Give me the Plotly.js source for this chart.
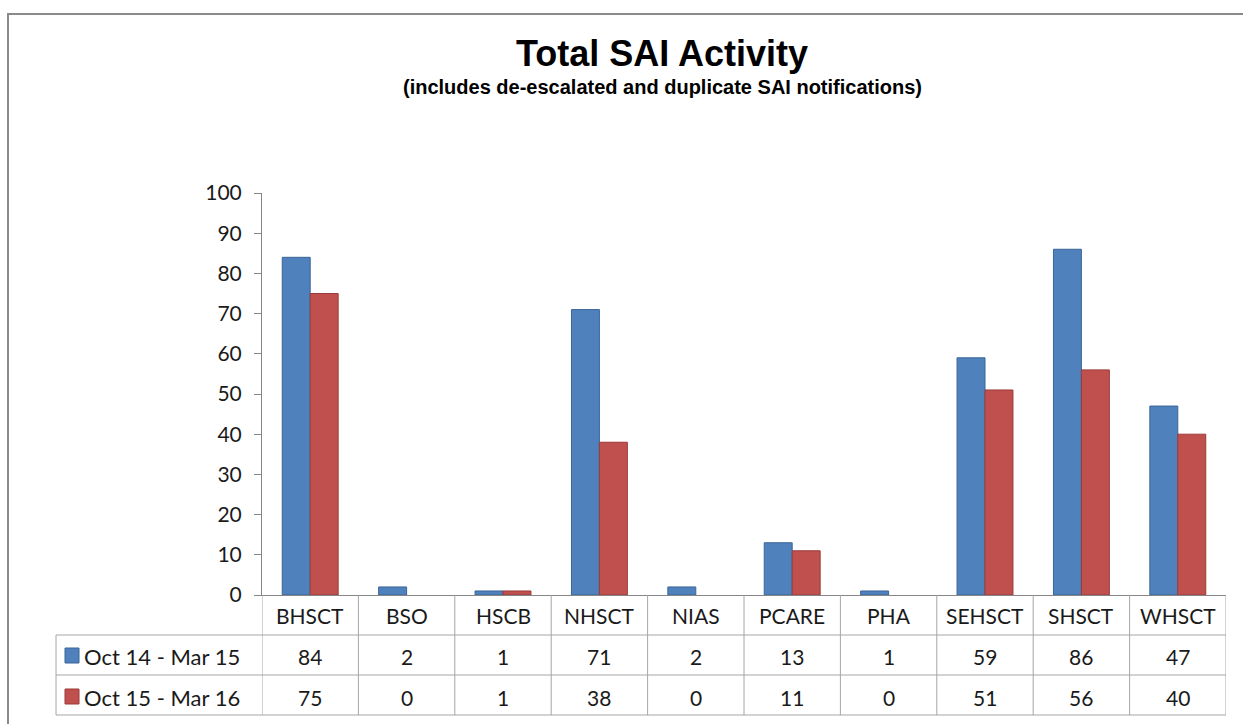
<!DOCTYPE html>
<html>
<head>
<meta charset="utf-8">
<script src="https://cdn.plot.ly/plotly-3.0.1.min.js"></script>
<style>html,body{margin:0;padding:0;background:#fff;}#chart{width:1243px;height:724px;}</style>
</head>
<body>
<div id="chart"></div>
<script>
const categories = ['BHSCT','BSO','HSCB','NHSCT','NIAS','PCARE','PHA','SEHSCT','SHSCT','WHSCT'];
const seriesNames = ['Oct 14 - Mar 15','Oct 15 - Mar 16'];
const octMar15 = [84,2,1,71,2,13,1,59,86,47];
const octMar16 = [75,0,1,38,0,11,0,51,56,40];
const yTicks = [0,10,20,30,40,50,60,70,80,90,100];

const W = 1243, H = 724;
const L = 262, R = 1226, T = 193, B = 595;
const px = x => (x - L) / (R - L);
const py = y => (B - y) / (B - T);

const fills = ['#4F81BD', '#C0504D'];
const borders = ['#3A6597', '#9B3B38'];
const seriesVals = [octMar15, octMar16];
const textFont = {family: 'Lato, "Open Sans", sans-serif', size: 21, color: '#1a1a1a'};
const legendFont = {family: 'Lato, "Open Sans", sans-serif', size: 22, color: '#1a1a1a'};
const gridColor = '#A6A6A6';

const traces = seriesVals.map((vals, i) => ({
  type: 'bar', name: seriesNames[i], x: categories, y: vals,
  marker: {color: fills[i], line: {color: borders[i], width: vals.map(v => v === 0 ? 0 : 1)}},
  hoverinfo: 'x+y'
}));

const shapes = [];
const annotations = [];
// outer frame
shapes.push({type:'rect', xref:'paper', yref:'paper', x0:px(8), x1:px(1270), y0:py(14), y1:py(760), line:{color:'#8a8a8a', width:2}});
// table horizontal lines
[635, 675, 715].forEach(y => shapes.push({type:'line', xref:'paper', yref:'paper', x0:px(56), x1:1, y0:py(y), y1:py(y), line:{color:gridColor, width:1}}));
// table left edge
shapes.push({type:'line', xref:'paper', yref:'paper', x0:px(56), x1:px(56), y0:py(635), y1:py(715), line:{color:gridColor, width:1}});
// category column separators
for (let k = 0; k <= categories.length; k++) {
  shapes.push({type:'line', xref:'x', yref:'paper', x0:k-0.5, x1:k-0.5, y0:py(595), y1:py(715), line:{color:gridColor, width:1}});
}
// legend keys
seriesNames.forEach((n, i) => {
  const yc = 656 + 41 * i;
  shapes.push({type:'rect', xref:'paper', yref:'paper', x0:px(65), x1:px(79), y0:py(yc-8), y1:py(yc+7), fillcolor:fills[i], line:{color:borders[i], width:1}});
  annotations.push({xref:'paper', yref:'paper', x:px(82), y:py(yc), xanchor:'left', yanchor:'middle', text:n, showarrow:false, font:legendFont});
});
// header and values
categories.forEach((c, j) => {
  annotations.push({xref:'x', yref:'paper', x:c, y:py(615), xanchor:'center', yanchor:'middle', text:c, showarrow:false, font:textFont});
  seriesVals.forEach((vals, i) => {
    annotations.push({xref:'x', yref:'paper', x:c, y:py(656 + 41 * i), xanchor:'center', yanchor:'middle', text:String(vals[j]), showarrow:false, font:textFont});
  });
});
// titles
annotations.push({xref:'paper', yref:'paper', x:px(662), y:py(53), xanchor:'center', yanchor:'middle', text:'<b>Total SAI Activity</b>', showarrow:false, font:{family:'Liberation Sans, Arial, sans-serif', size:36, color:'#000'}});
annotations.push({xref:'paper', yref:'paper', x:px(662), y:py(87), xanchor:'center', yanchor:'middle', text:'<b>(includes de-escalated and duplicate SAI notifications)</b>', showarrow:false, font:{family:'Liberation Sans, Arial, sans-serif', size:20, color:'#000'}});

const layout = {
  width: W, height: H,
  margin: {l: L, r: W - R, t: T, b: H - B, pad: 0},
  paper_bgcolor: '#fff', plot_bgcolor: '#fff',
  showlegend: false,
  barmode: 'group', bargap: 0.42, bargroupgap: 0,
  xaxis: {type:'category', range:[-0.5, categories.length - 0.5], showticklabels:false, ticks:'', showgrid:false, zeroline:false, showline:true, linecolor:'#868686', linewidth:1, fixedrange:true},
  yaxis: {range:[0,100], tickvals:yTicks, ticktext:yTicks.map(String), showgrid:false, zeroline:false, showline:true, linecolor:'#868686', linewidth:1, ticks:'outside', ticklen:7, tickcolor:'#868686', tickfont:textFont, ticklabelstandoff:8, fixedrange:true},
  shapes: shapes,
  annotations: annotations
};

Plotly.newPlot('chart', traces, layout, {displayModeBar:false});
</script>
</body>
</html>
